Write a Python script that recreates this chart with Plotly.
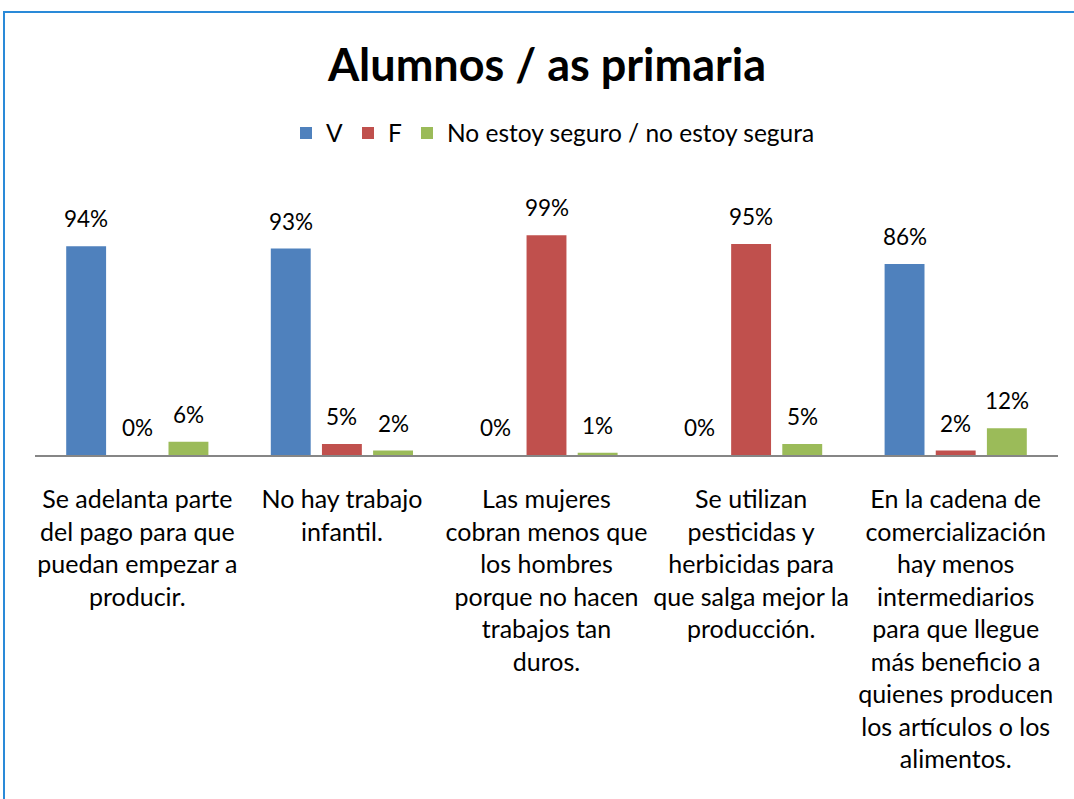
import plotly.graph_objects as go

categories = [
    "Se adelanta parte<br>del pago para que<br>puedan empezar a<br>producir.",
    "No hay trabajo<br>infantil.",
    "Las mujeres<br>cobran menos que<br>los hombres<br>porque no hacen<br>trabajos tan<br>duros.",
    "Se utilizan<br>pesticidas y<br>herbicidas para<br>que salga mejor la<br>producción.",
    "En la cadena de<br>comercialización<br>hay menos<br>intermediarios<br>para que llegue<br>más beneficio a<br>quienes producen<br>los artículos o los<br>alimentos.",
]
series_names = ["V", "F", "No estoy seguro / no estoy segura"]
v_values = [94, 93, 0, 0, 86]
f_values = [0, 5, 99, 95, 2]
ns_values = [6, 2, 1, 5, 12]
series_values = [v_values, f_values, ns_values]
colors = ["#4F81BD", "#C0504D", "#9BBB59"]

W, H = 1074, 799
ml, mr, mt, mb = 35, 16, 233, 344
pw = W - ml - mr
ph = H - mt - mb
FONT = "Lato, 'Noto Sans', sans-serif"

fig = go.Figure()
for name, vals, col in zip(series_names, series_values, colors):
    fig.add_trace(go.Bar(x=categories, y=vals, name=name, marker_color=col,
                         marker_line_width=0))

# data labels
slot = pw / len(categories)
bargap = 0.25
group_w = slot * (1 - bargap)
step = group_w / 3
offsets = [-step, 0, step]
for vals, off in zip(series_values, offsets):
    for c, v in zip(categories, vals):
        fig.add_annotation(x=c, y=v, text=f"{v}%", showarrow=False,
                           xshift=off, yshift=12, yanchor="bottom",
                           font=dict(size=22.5, color="#000", family=FONT))

# border
fig.add_shape(type="rect", xref="paper", yref="paper",
              x0=(4 - ml) / pw, x1=(1090 - ml) / pw,
              y0=(mt + ph - 820) / ph, y1=(mt + ph - 12) / ph,
              line=dict(color="#2A8AD8", width=2), fillcolor="rgba(0,0,0,0)")

fig.update_layout(
    width=W, height=H,
    margin=dict(l=ml, r=mr, t=mt, b=mb),
    paper_bgcolor="white", plot_bgcolor="white",
    barmode="group", bargap=bargap, bargroupgap=0.22,
    font=dict(family=FONT, color="#000"),
    title=dict(text="<b>Alumnos / as primaria</b>", x=547 / W, xanchor="center",
               y=1 - 65 / H, yanchor="middle", yref="container",
               font=dict(size=45, family=FONT, color="#000")),
    legend=dict(orientation="h", x=553 / W, xanchor="center", xref="container",
                y=1 - 133 / H, yanchor="middle", yref="container",
                font=dict(size=24.5, family=FONT), traceorder="normal",
                itemwidth=30),
    showlegend=True,
)
fig.update_xaxes(showline=True, linecolor="#868686", linewidth=2,
                 ticks="outside", ticklen=21, tickcolor="rgba(0,0,0,0)",
                 tickfont=dict(size=25, family=FONT, color="#000"),
                 tickangle=0, showgrid=False)
fig.update_yaxes(range=[0, 100], visible=False, showgrid=False)

fig.write_html("out.html", config={"displayModeBar": False},
               post_script="document.body.style.margin='0';")
